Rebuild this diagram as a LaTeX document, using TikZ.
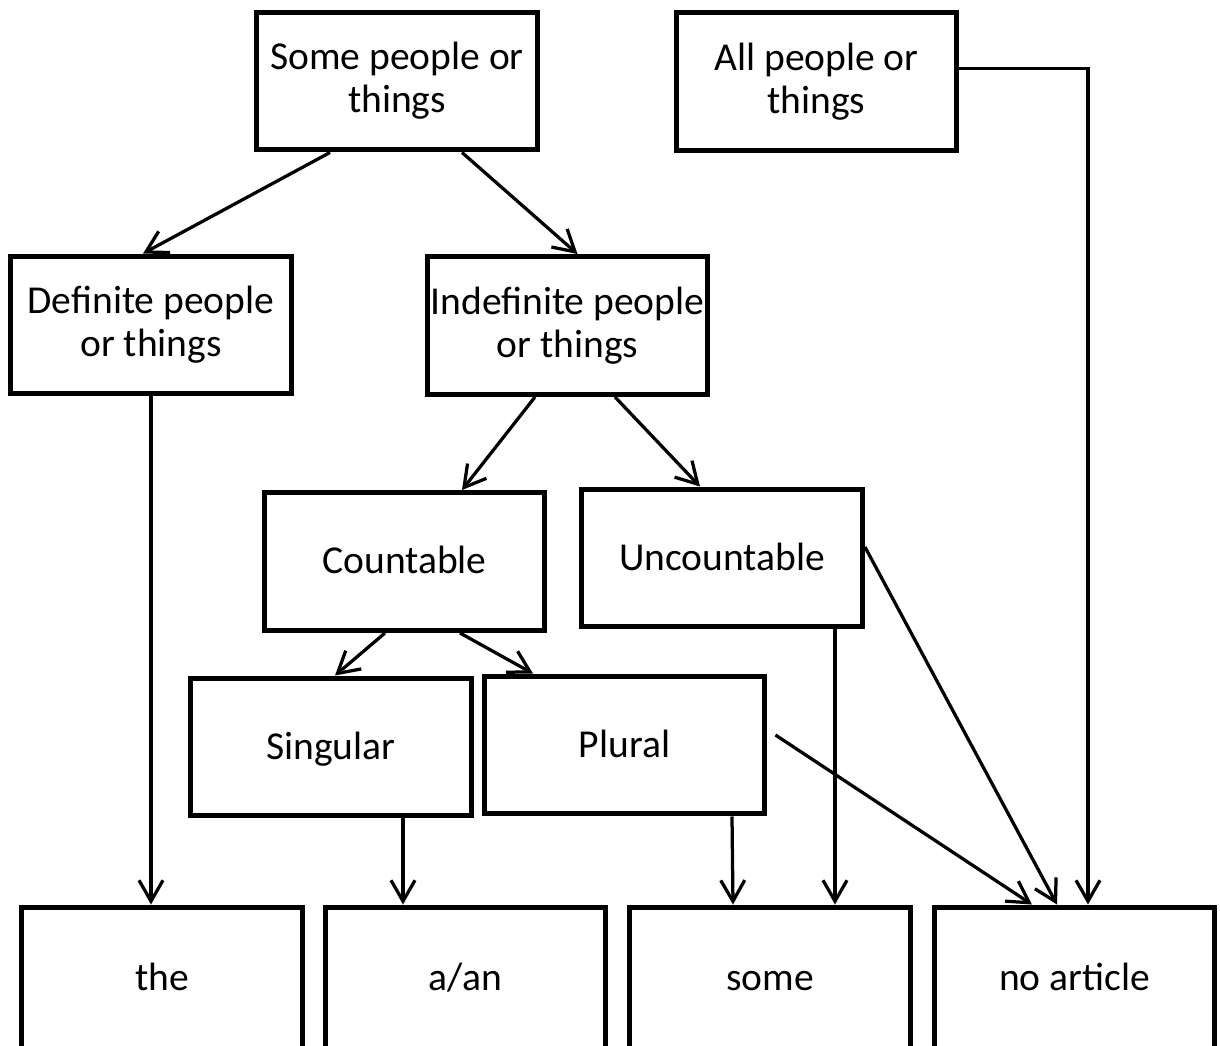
\documentclass[tikz,border=0pt]{standalone}
\usepackage{fontspec}
\setmainfont{Carlito}
\usetikzlibrary{calc,arrows.meta}

\tikzset{
	box/.style={draw, line width=0.1cm, minimum width=5.62cm, minimum height=2.76cm,
		inner sep=0pt, align=center, font=\fontsize{22.5}{24.5}\selectfont},
	one/.style={box, text height=18pt, text depth=4pt},
	low/.style={one, minimum height=2.84cm},
	arr/.style={line width=0.065cm, -{Straight Barb[length=0.42cm,width=0.48cm]}}
}

\begin{document}
\begin{tikzpicture}[x=0.02cm, y=-0.02cm]
			%%%%% START %%%%%
			\useasboundingbox (0,0) rectangle (1220,1045);
			
			\node[box] (some) at (397, 81) {Some people or\\things};
			\node[box] (all) at (816.5, 81.5) {All people or\\things};
			
			\node[box] (def) at (151, 325) {Definite people\\or things};
			\node[box] (indef) at (567.5, 325.5) {Indefinite people\\or things};
			
			\node[one] (count) at (404.5, 561.5) {Countable};
			\node[one] (uncount) at (722, 558) {Uncountable};
			
			\node[one] (sing) at (331, 747) {Singular};
			\node[one] (plural) at (624.5, 745) {Plural};
			
			\node[low] (the) at (162, 978) {the};
			\node[low] (aan) at (465.5, 978) {a/an};
			\node[low] (somebox) at (770, 978) {some};
			\node[low] (noart) at (1074.5, 978) {no article};
			
			\draw[arr] ($(some.south)+(-67,0)$) -- ($(def.north)+(-8,0)$);
			\draw[arr] ($(some.south)+(65,0)$) -- ($(indef.north)+(10,0)$);
			\draw[arr] ($(all.east)+(0,-13)$) -| ($(noart.north)+(13.5,0)$);
			
			\draw[arr] (def.south) -- (def.south |- the.north);
			
			\draw[arr] ($(indef.south)+(-32.5,0)$) -- ($(count.north)+(57.5,0)$);
			\draw[arr] ($(indef.south)+(47.5,0)$) -- ($(uncount.north)+(-22,0)$);
			
			\draw[arr] ($(count.south)+(-19.5,0)$) -- ($(sing.north)+(4,0)$);
			\draw[arr] ($(count.south)+(55.5,0)$) -- ($(plural.north)+(-91.5,0)$);
			
			\draw[arr] ($(sing.south)+(72,0)$) -- ($(aan.north)+(-62.5,0)$);
			\draw[arr] ($(plural.south)+(107.5,0)$) -- ($(somebox.north)+(-37,0)$);
			\draw[arr] ($(uncount.south)+(113,0)$) -- ($(somebox.north)+(65,0)$);
			
			\draw[arr] ($(uncount.east)+(0,-11)$) -- ($(noart.north)+(-17.5,0)$);
			\draw[arr] ($(plural.east)+(8,-10)$) -- ($(noart.north)+(-42.5,0)$);
			%%%%% END %%%%%
\end{tikzpicture}
\end{document}
